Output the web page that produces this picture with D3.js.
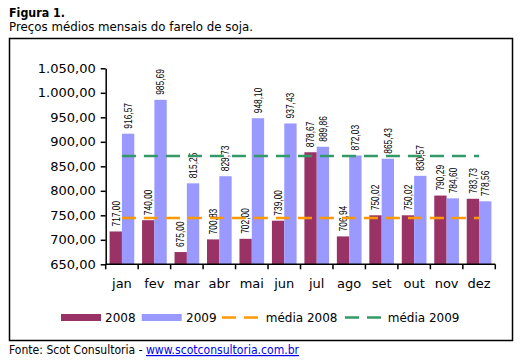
<!DOCTYPE html>
<html>
<head>
<meta charset="utf-8">
<script src="https://cdn.jsdelivr.net/npm/d3@7"></script>
<style>
  body { margin: 0; background: #fff; }
  svg { display: block; }
</style>
</head>
<body>
<div id="chart"></div>
<script>
var months = ["jan", "fev", "mar", "abr", "mai", "jun", "jul", "ago", "set", "out", "nov", "dez"];
var values2008 = [717.00, 740.00, 675.00, 700.83, 702.00, 739.00, 878.67, 706.94, 750.02, 750.02, 790.29, 783.73];
var values2009 = [916.57, 985.69, 815.25, 829.73, 948.10, 937.43, 889.86, 872.03, 865.43, 830.57, 784.60, 778.56];
var media2008 = 744.46;
var media2009 = 871.15;
var yTicks = [650, 700, 750, 800, 850, 900, 950, 1000, 1050];

var svgWidth = 531;
var svgHeight = 362;

var plot = { left: 105.7, right: 495.3, top: 68.3, bottom: 264.3 };

var br = d3.formatLocale({ decimal: ",", thousands: ".", grouping: [3], currency: ["R$", ""] });
var fmt = br.format(",.2f");

var svg = d3.select("#chart")
    .append("svg")
    .attr("width", svgWidth)
    .attr("height", svgHeight);

// titles
svg.append("text")
    .attr("x", 9).attr("y", 17)
    .attr("font-family", "DejaVu Sans").attr("font-weight", "bold").attr("font-size", 12.5)
    .attr("textLength", 56).attr("lengthAdjust", "spacingAndGlyphs")
    .text("Figura 1.");

svg.append("text")
    .attr("x", 9).attr("y", 30.5)
    .attr("font-family", "DejaVu Sans").attr("font-size", 12)
    .attr("textLength", 244).attr("lengthAdjust", "spacingAndGlyphs")
    .text("Preços médios mensais do farelo de soja.");

// outer box
svg.append("rect")
    .attr("x", 9.5).attr("y", 38.5)
    .attr("width", 503).attr("height", 302)
    .attr("fill", "none").attr("stroke", "#000").attr("stroke-width", 1.5);

// scales
var x0 = d3.scaleBand()
    .domain(months)
    .range([plot.left, plot.right])
    .paddingInner(0.24)
    .paddingOuter(0.12);

var x1 = d3.scaleBand()
    .domain(["2008", "2009"])
    .range([0, x0.bandwidth()]);

var y = d3.scaleLinear()
    .domain([650, 1050])
    .range([plot.bottom, plot.top]);

var data = months.map((m, i) => ({ month: m, v2008: values2008[i], v2009: values2009[i] }));

// y axis
var yAxis = svg.append("g")
    .attr("transform", `translate(${plot.left}, 0)`)
    .call(d3.axisLeft(y).tickValues(yTicks).tickFormat(fmt).tickSize(5).tickSizeOuter(0));
yAxis.select(".domain").attr("stroke", "#000").attr("stroke-width", 1.5);
yAxis.selectAll(".tick line").attr("stroke", "#000").attr("stroke-width", 1.5);
yAxis.selectAll(".tick text")
    .attr("font-family", "DejaVu Sans").attr("font-size", 13).attr("fill", "#000")
    .attr("x", -10);

// bars
var groups = svg.selectAll(".month")
    .data(data)
    .enter()
    .append("g")
    .attr("transform", d => `translate(${x0(d.month)}, 0)`);

var series = [
    { key: "2008", field: "v2008", color: "#993366" },
    { key: "2009", field: "v2009", color: "#9999FF" }
];

series.forEach(s => {
    groups.append("rect")
        .attr("x", x1(s.key))
        .attr("y", d => y(d[s.field]))
        .attr("width", x1.bandwidth())
        .attr("height", d => plot.bottom - y(d[s.field]))
        .attr("fill", s.color);

    groups.append("text")
        .attr("transform", d => `translate(${x1(s.key) + x1.bandwidth() / 2}, ${y(d[s.field]) - 5}) rotate(-90) scale(0.8, 1)`)
        .attr("dy", "0.36em")
        .attr("font-family", "Liberation Sans").attr("font-size", 10.5).attr("fill", "#000")
        .text(d => fmt(d[s.field]));
});

// x axis
var step = x0.step();
var boundaries = months.map(m => x0(m) + x0.bandwidth() / 2 - step / 2).concat([plot.right]);

svg.append("line")
    .attr("x1", plot.left).attr("x2", plot.right)
    .attr("y1", plot.bottom).attr("y2", plot.bottom)
    .attr("stroke", "#000").attr("stroke-width", 1.5);

svg.selectAll(".xtick")
    .data(boundaries)
    .enter()
    .append("line")
    .attr("x1", d => d).attr("x2", d => d)
    .attr("y1", plot.bottom).attr("y2", plot.bottom + 5)
    .attr("stroke", "#000").attr("stroke-width", 1.5);

svg.selectAll(".xlabel")
    .data(months)
    .enter()
    .append("text")
    .attr("x", d => x0(d) + x0.bandwidth() / 2)
    .attr("y", 288)
    .attr("text-anchor", "middle")
    .attr("font-family", "DejaVu Sans").attr("font-size", 13).attr("fill", "#000")
    .text(d => d);

// average lines
var xFirst = x0(months[0]) + x0.bandwidth() / 2;
var xLast = x0(months[months.length - 1]) + x0.bandwidth() / 2;

[{ v: media2008, color: "#FF9900" }, { v: media2009, color: "#339966" }].forEach(a => {
    svg.append("line")
        .attr("x1", xFirst).attr("x2", xLast)
        .attr("y1", y(a.v)).attr("y2", y(a.v))
        .attr("stroke", a.color).attr("stroke-width", 2.5)
        .attr("stroke-dasharray", "14,8");
});

// legend
var legendY = 317.5;
var legend = svg.append("g");

legend.append("rect").attr("x", 61).attr("y", legendY - 3.5).attr("width", 40).attr("height", 7).attr("fill", "#993366");
legend.append("text").attr("x", 105).attr("y", legendY + 4.3).text("2008");

legend.append("rect").attr("x", 141.7).attr("y", legendY - 3.5).attr("width", 40).attr("height", 7).attr("fill", "#9999FF");
legend.append("text").attr("x", 186).attr("y", legendY + 4.3).text("2009");

legend.append("line").attr("x1", 222).attr("x2", 258).attr("y1", legendY).attr("y2", legendY)
    .attr("stroke", "#FF9900").attr("stroke-width", 2.5).attr("stroke-dasharray", "14,8");
legend.append("text").attr("x", 265.7).attr("y", legendY + 4.3).text("média 2008");

legend.append("line").attr("x1", 345).attr("x2", 381).attr("y1", legendY).attr("y2", legendY)
    .attr("stroke", "#339966").attr("stroke-width", 2.5).attr("stroke-dasharray", "14,8");
legend.append("text").attr("x", 387.7).attr("y", legendY + 4.3).text("média 2009");

legend.selectAll("text")
    .attr("font-family", "DejaVu Sans").attr("font-size", 12).attr("fill", "#000");

// footer
var footer = svg.append("text")
    .attr("x", 9).attr("y", 354)
    .attr("font-family", "DejaVu Sans").attr("font-size", 12)
    .attr("textLength", 290).attr("lengthAdjust", "spacingAndGlyphs");
footer.append("tspan").attr("fill", "#000").text("Fonte: Scot Consultoria - ");
footer.append("tspan").attr("fill", "#0000EE").attr("text-decoration", "underline")
    .text("www.scotconsultoria.com.br");
</script>
</body>
</html>
